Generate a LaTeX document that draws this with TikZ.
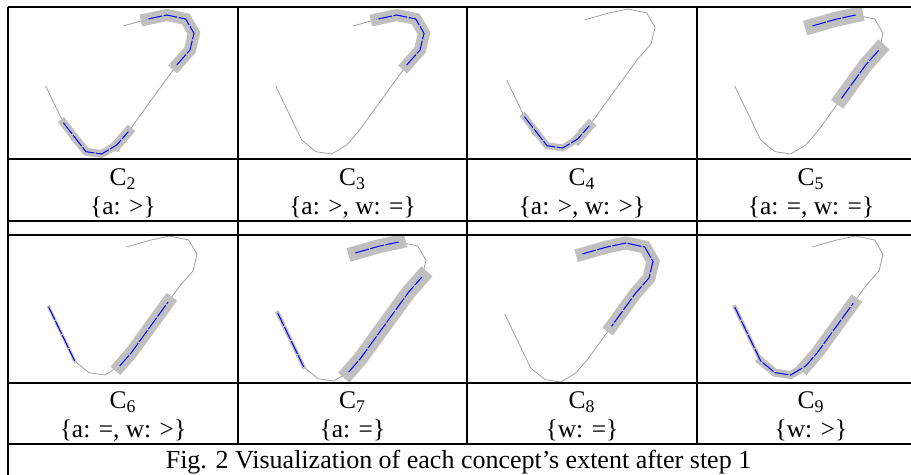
\documentclass[tikz,border=0pt]{standalone}
\usepackage{fontspec}
\setmainfont{Liberation Serif}
\usetikzlibrary{calc}

% trajectory polyline, in pixels from the top left corner of a cell
\newcommand\trajpts{%
  \coordinate (A) at (37.7,79);
  \coordinate (B) at (63.7,133);
  \coordinate (C) at (78,144.7);
  \coordinate (D) at (93.7,147);
  \coordinate (E) at (108.7,138);
  \coordinate (F) at (120.3,124.7);
  \coordinate (G) at (168.7,58);
  \coordinate (H) at (182,43);
  \coordinate (I) at (186,26.3);
  \coordinate (J) at (177.7,12);
  \coordinate (K) at (158.7,8);
  \coordinate (L) at (138.7,12.3);
  \coordinate (M) at (115.3,19);
  \draw[traj] (A) -- (B) -- (C) -- (D) -- (E) -- (F) -- (G) -- (H) -- (I)
    -- (J) -- (K) -- (L) -- (M);
}

\begin{document}
\begin{tikzpicture}[
  x=0.5pt,y=-0.5pt,font=\fontsize{12.7}{14.5}\selectfont,
  grid/.style={line width=0.75pt,draw=black},
  traj/.style={draw=gray!75,line width=0.4pt},
  band/.style={draw=bandgray,line width=#1,line cap=rect,line join=miter},
  trace/.style={draw=blue,line width=0.5pt,dash pattern=on 7pt off 0.8pt},
  lbl/.style={align=center,anchor=base,inner sep=0pt},
]
  \definecolor{bandgray}{HTML}{C0C0C0}
  \useasboundingbox (0,0) rectangle (911,475);

  % row 1
  \begin{scope}[shift={(8,7)}]
    \trajpts
    \draw[band=4pt] ($(A)!0.68!(B)$) -- (C) -- (D) -- (E);
    \draw[band=5pt] (E) -- (F);
    \draw[band=6pt] (G) -- (H) -- (I) -- (J) -- (K) -- (L);
    \draw[trace] ($(A)!0.68!(B)$) -- (C) -- (D) -- (E) -- (F);
    \draw[trace] (G) -- (H) -- (I) -- (J) -- (K) -- (L);
  \end{scope}
  \begin{scope}[shift={(238,7)}]
    \trajpts
    \draw[band=6pt] (G) -- (H) -- (I) -- (J) -- (K) -- (L);
    \draw[trace] (G) -- (H) -- (I) -- (J) -- (K) -- (L);
  \end{scope}
  \begin{scope}[shift={(469,1)}]
    \trajpts
    \draw[band=3.5pt] ($(A)!0.68!(B)$) -- (C) -- (D) -- (E);
    \draw[band=5pt] (E) -- (F);
    \draw[trace] ($(A)!0.68!(B)$) -- (C) -- (D) -- (E) -- (F);
  \end{scope}
  \begin{scope}[shift={(697,7)}]
    \trajpts
    \draw[band=7.5pt] (M) -- (L) -- (K);
    \draw[band=7.5pt] ($(F)!0.5!(G)$) -- (G) -- (H);
    \draw[trace] (M) -- (L) -- (K);
    \draw[trace] ($(F)!0.5!(G)$) -- (G) -- (H);
  \end{scope}

  % row 2
  \begin{scope}[shift={(11,228)}]
    \trajpts
    \draw[band=1.5pt] (A) -- (B);
    \draw[band=6.5pt] (E) -- (F) -- ($(F)!0.76!(G)$);
    \draw[trace] (A) -- (B);
    \draw[trace] (E) -- (F) -- ($(F)!0.76!(G)$);
  \end{scope}
  \begin{scope}[shift={(240,234)}]
    \trajpts
    \draw[band=2pt] (A) -- (B);
    \draw[band=7pt] (M) -- (L) -- (K);
    \draw[band=7.5pt] (E) -- (F) -- (G) -- (H);
    \draw[trace] (A) -- (B);
    \draw[trace] (M) -- (L) -- (K);
    \draw[trace] (E) -- (F) -- (G) -- (H);
  \end{scope}
  \begin{scope}[shift={(467,235)}]
    \trajpts
    \draw[band=6.5pt] (M) -- (L) -- (K) -- (J) -- (I) -- (H) -- (G) -- ($(F)!0.5!(G)$);
    \draw[trace] (M) -- (L) -- (K) -- (J) -- (I) -- (H) -- (G) -- ($(F)!0.5!(G)$);
  \end{scope}
  \begin{scope}[shift={(697,228)}]
    \trajpts
    \draw[band=2pt] (A) -- (B);
    \draw[band=4pt] (B) -- (C) -- (D) -- (E);
    \draw[band=6.5pt] (E) -- (F) -- ($(F)!0.74!(G)$);
    \draw[trace] (A) -- (B) -- (C) -- (D) -- (E) -- (F) -- ($(F)!0.74!(G)$);
  \end{scope}

  % table rules
  \foreach \y in {7,159,221,235,383,444}
    \draw[grid] (8,\y) -- (911,\y);
  \draw[grid] (8,7) -- (8,475);
  \foreach \x in {238,467,697}
    \draw[grid] (\x,7) -- (\x,444);

  % concept labels (base = last line)
  \node[lbl] (c2) at (123,215) {C\textsubscript{2}\\\{a: >\}};
  \node[lbl] (c3) at (352.5,215) {C\textsubscript{3}\\\{a: >, w: =\}};
  \node[lbl] (c4) at (582,215) {C\textsubscript{4}\\\{a: >, w: >\}};
  \node[lbl] (c5) at (811,215) {C\textsubscript{5}\\\{a: =, w: =\}};
  \node[lbl] (c6) at (123,437.5) {C\textsubscript{6}\\\{a: =, w: >\}};
  \node[lbl] (c7) at (352.5,437.5) {C\textsubscript{7}\\\{a: =\}};
  \node[lbl] (c8) at (582,437.5) {C\textsubscript{8}\\\{w: =\}};
  \node[lbl] (c9) at (811,437.5) {C\textsubscript{9}\\\{w: >\}};

  \node[anchor=base,inner sep=0pt,font=\fontsize{13}{15}\selectfont] (cap) at (458.5,469)
    {Fig. 2 Visualization of each concept's extent after step 1};
\end{tikzpicture}
\end{document}
